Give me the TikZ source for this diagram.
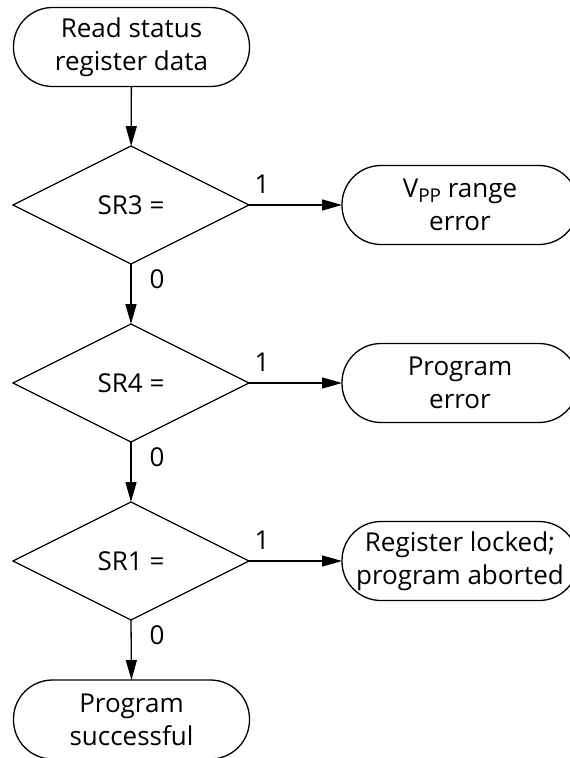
\documentclass[tikz,border=0pt]{standalone}
\usepackage{fontspec}
\setmainfont{Open Sans}
\usetikzlibrary{shapes.geometric,arrows.meta}
\newcommand{\vsub}[1]{\raisebox{-5pt}{\fontsize{19}{19}\selectfont #1}}
\begin{document}
\begin{tikzpicture}[x=1pt,y=-1pt,
  every node/.style={font=\fontsize{26}{33}\selectfont},
  term/.style={draw, line width=1.3pt, rectangle, rounded corners=39pt, minimum width=236pt, minimum height=79pt, inner sep=0pt, outer sep=0pt, align=center},
  dec/.style={draw, line width=1.3pt, diamond, minimum width=236pt, minimum height=118pt, inner sep=0pt, outer sep=0pt, align=center},
  arr/.style={line width=1.3pt, -{Triangle[length=20pt,width=11pt]}},
  lab/.style={inner sep=0pt}
]
\useasboundingbox (0,0) rectangle (570,758);
\clip (0,0) rectangle (570,758);

\node[term] (start) at (131.5,47) {Read status\\register data};
\node[dec] (d1) at (131,205) {SR3 =};
\node[dec] (d2) at (131,383) {SR4 =};
\node[dec] (d3) at (131,561) {SR1 =};
\node[term] (stop) at (131.5,719.5) {Program\\successful};

\node[term] (e1) at (460,205) {V\vsub{PP} range\\error};
\node[term] (e2) at (460,383) {Program\\error};
\node[term] (e3) at (460,561) {Register locked;\\program aborted};

\draw[arr] (start) -- (d1);
\draw[arr] (d1.south) -- node[lab, pos=0.25, xshift=26pt]{0} (d2.north);
\draw[arr] (d2.south) -- node[lab, pos=0.25, xshift=26pt]{0} (d3.north);
\draw[arr] (d3.south) -- node[lab, pos=0.25, xshift=26pt]{0} (stop.north);

\draw[arr] (d1.east) -- node[lab, pos=0.14, yshift=21pt]{1} (e1.west);
\draw[arr] (d2.east) -- node[lab, pos=0.14, yshift=21pt]{1} (e2.west);
\draw[arr] (d3.east) -- node[lab, pos=0.14, yshift=21pt]{1} (e3.west);
\end{tikzpicture}
\end{document}
